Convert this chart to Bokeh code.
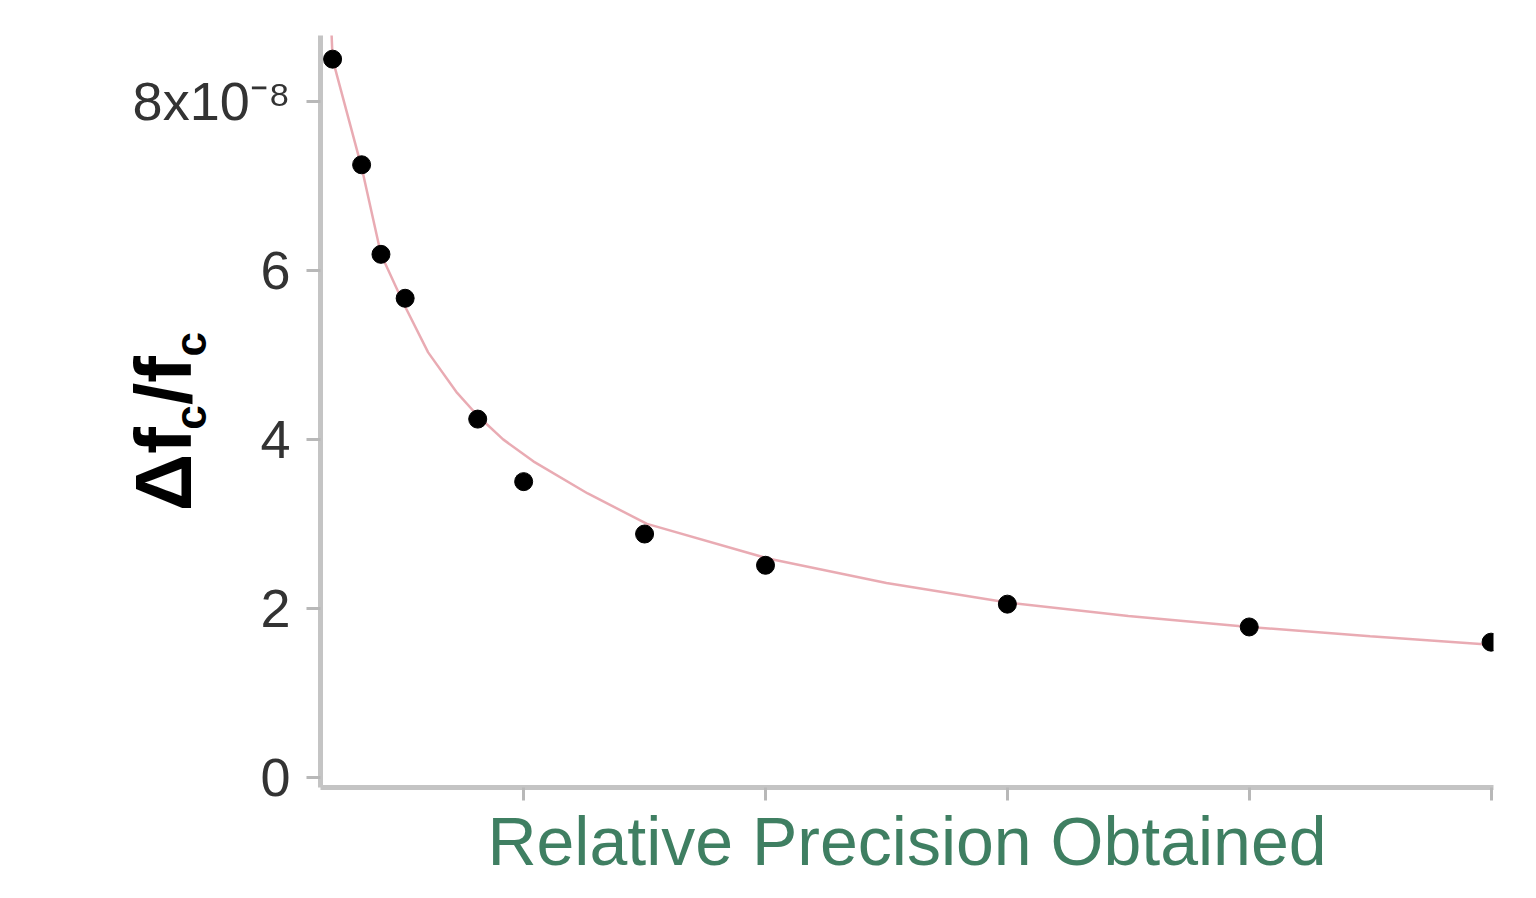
import math
from bokeh.plotting import figure
from bokeh.models import Range1d, FixedTicker, LinearAxis
from bokeh.embed import file_html
from bokeh.resources import INLINE

# ---- data ----
precision = [0.42, 0.66, 0.82, 1.02, 1.62, 2.0, 3.0, 4.0, 6.0, 8.0, 10.0]
dfc_over_fc = [8.50, 7.25, 6.19, 5.67, 4.24, 3.50, 2.88, 2.51, 2.05, 1.78, 1.60]

fit_x = [0.41, 0.42, 0.66, 0.82, 1.01, 1.21, 1.45, 1.62, 1.83, 2.08, 2.53, 3.02,
         4.02, 5.0, 6.0, 7.0, 8.0, 9.0, 10.0]
fit_y = [8.85, 8.50, 7.22, 6.19, 5.60, 5.03, 4.55, 4.28, 4.00, 3.74, 3.36, 3.00,
         2.59, 2.30, 2.07, 1.91, 1.78, 1.67, 1.57]

y_ticks = [0, 2, 4, 6, 8]
y_tick_labels = ["0", "2", "4", "6", "8x10\u207b\u2078"]
x_ticks = [2, 4, 6, 8, 10]

x_title = "Relative Precision Obtained"
NB = "\u00a0"
# y title  "Δf_c / f_c": main glyphs and the two subscript c's on separate lines
y_title_main = "\u0394f" + NB + "/f" + NB + NB
y_title_subs = NB * 5 + "c" + NB * 4 + "c"

FONT = "Liberation Sans"

p = figure(width=1520, height=882, output_backend="svg", toolbar_location=None,
           x_range=Range1d(0.32, 10.02), y_range=Range1d(-0.12, 8.78),
           min_border_left=320, min_border_right=27, min_border_top=35,
           min_border_bottom=95)
p.outline_line_color = None
p.grid.visible = False
p.background_fill_color = "white"
p.border_fill_color = "white"

for ax in (p.xaxis[0], p.yaxis[0]):
    ax.axis_line_color = "#c4c4c4"
    ax.axis_line_width = 5
    ax.major_tick_line_color = "#b8b8b8"
    ax.major_tick_line_width = 3
    ax.minor_tick_line_color = None
    ax.major_tick_in = 0

yax = p.yaxis[0]
yax.ticker = FixedTicker(ticks=y_ticks)
yax.major_label_overrides = {t: l for t, l in zip(y_ticks, y_tick_labels)}
yax.major_tick_out = 14
yax.major_label_standoff = 16
yax.major_label_text_font = FONT
yax.major_label_text_font_size = "54px"
yax.major_label_text_color = "#333333"
yax.axis_label = y_title_subs
yax.axis_label_text_font = FONT
yax.axis_label_text_font_size = "44px"
yax.axis_label_text_font_style = "bold"
yax.axis_label_text_color = "black"
yax.axis_label_standoff = -85

# outer (label-only) axis carrying the main part of the y title
title_axis = LinearAxis(ticker=FixedTicker(ticks=[]), axis_line_color=None,
                        major_tick_line_color=None, minor_tick_line_color=None,
                        major_tick_out=0, major_tick_in=0, major_label_standoff=0,
                        major_label_text_font_size="0px",
                        axis_label=y_title_main, axis_label_text_font=FONT,
                        axis_label_text_font_size="80px", axis_label_text_font_style="bold",
                        axis_label_text_color="black", axis_label_standoff=-45)
p.add_layout(title_axis, "left")

xax = p.xaxis[0]
xax.ticker = FixedTicker(ticks=x_ticks)
xax.major_label_overrides = {t: "" for t in x_ticks}
xax.major_label_text_font_size = "0px"
xax.major_label_standoff = 0
xax.major_tick_out = 13
xax.axis_label = x_title
xax.axis_label_text_font = FONT
xax.axis_label_text_font_style = "normal"
xax.axis_label_text_font_size = "68px"
xax.axis_label_text_color = "#3f7f62"
xax.axis_label_standoff = 2

p.line(fit_x, fit_y, line_color="#e7a2ab", line_width=2.5, line_alpha=0.9)
p.scatter(precision, dfc_over_fc, size=18, fill_color="black", line_color="black")

open("out.html", "w").write(file_html(p, INLINE))
